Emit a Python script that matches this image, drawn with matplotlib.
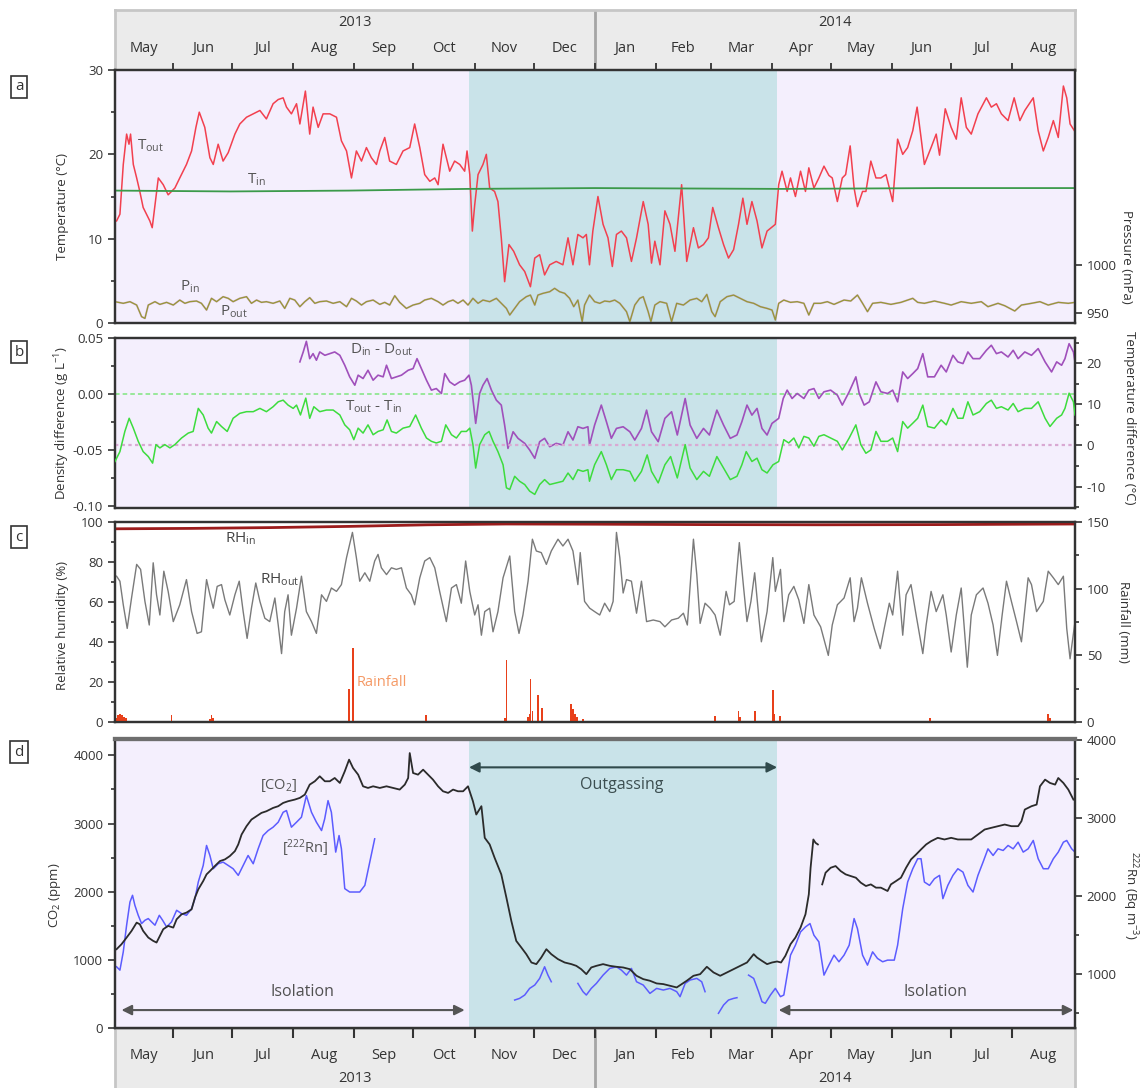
import numpy as np
import pandas as pd
import matplotlib
matplotlib.use("Agg")
import matplotlib.pyplot as plt
from matplotlib.ticker import MultipleLocator, FixedLocator, FormatStrFormatter

plt.rcParams['font.family'] = ['Open Sans', 'DejaVu Sans']
plt.rcParams['mathtext.fontset'] = 'custom'
plt.rcParams['mathtext.rm'] = 'Open Sans'
plt.rcParams['mathtext.it'] = 'Open Sans:italic'
plt.rcParams['axes.unicode_minus'] = False

# x values are days since 1 May 2013
START = pd.Timestamp('2013-05-01')
X0, X1 = 1.4, 489.0
OUTGAS = (181.2, 337.7)

# --- (a) temperature (degC) and pressure (mPa)
tout_day = [2.2, 3.9, 5.6, 7.3, 8.5, 9.3, 10.7, 12.4, 14.0, 15.7,
            17.4, 19.1, 20.3, 21.7, 23.4, 25.9, 28.4, 31.8, 34.3, 37.7,
            40.3, 42.5, 44.2, 47.0, 49.6, 51.3, 53.8, 56.3, 58.9, 62.3,
            64.8, 68.2, 71.6, 75.0, 78.3, 81.7, 84.3, 86.8, 88.5, 91.0,
            93.6, 95.3, 98.1, 100.3, 102.0, 104.6, 107.1, 110.5, 113.9, 116.4,
            119.0, 121.5, 124.0, 126.6, 129.1, 131.6, 134.2, 135.9, 138.4, 140.9,
            144.3, 147.7, 151.1, 153.6, 156.2, 158.7, 161.3, 163.8, 165.5, 168.0,
            169.7, 171.4, 173.9, 176.5, 179.0, 180.2, 181.6, 182.9, 184.1, 185.8,
            188.3, 190.0, 191.7, 194.2, 195.9, 197.6, 199.3, 201.5, 203.9, 206.9,
            209.5, 212.4, 214.6, 217.1, 219.6, 222.2, 225.5, 228.9, 231.5, 234.0,
            236.5, 239.1, 240.8, 242.4, 244.1, 246.7, 249.3,
            251.8, 254.0, 256.1, 258.6, 261.2, 263.7, 266.3, 269.7, 272.2, 273.9,
            275.6, 278.2, 280.7, 283.3, 285.8, 289.2, 291.8, 295.2, 297.7, 300.3,
            302.8, 305.0, 307.9, 310.5, 313.0, 315.6, 318.1, 320.3, 322.4, 324.9,
            327.5, 330.0, 332.6, 336.8, 338.5, 340.2, 342.8, 344.5, 347.0, 349.6,
            352.1, 353.8, 356.4, 358.9, 361.5, 364.0, 365.7, 368.3, 370.8, 372.5,
            374.8, 376.8, 378.5, 381.1, 382.8, 385.3, 387.9, 390.4, 393.0, 394.7,
            396.4, 398.9, 401.5, 404.0, 406.6, 408.8, 410.8, 412.5, 415.9, 418.5,
            420.2, 423.1, 426.1, 428.7, 431.2, 433.8, 436.3, 439.7, 444.0, 446.5,
            449.1, 451.6, 455.0, 458.1, 461.0, 463.5, 467.8, 470.3, 472.9, 475.4,
            478.0, 480.5, 483.1, 484.8, 486.5, 488.7]
tout = [12.1, 12.9, 18.8, 22.4, 21.2, 22.4, 18.8, 17.2, 15.6, 13.7,
        12.9, 12.1, 11.3, 14.0, 17.2, 16.4, 15.2, 16.0, 17.2, 18.8,
        20.4, 23.2, 25.0, 23.2, 19.6, 18.8, 21.2, 19.2, 20.2, 22.4,
        23.6, 24.4, 24.8, 25.2, 24.2, 26.0, 26.5, 26.7, 25.6, 24.8,
        26.0, 23.6, 27.5, 22.4, 25.6, 23.2, 24.8, 24.8, 24.4, 21.6,
        20.4, 17.2, 20.4, 19.2, 20.8, 19.6, 18.8, 20.4, 22.0, 19.2,
        18.8, 20.4, 20.8, 23.6, 20.8, 17.6, 16.8, 17.2, 16.4, 21.2,
        19.6, 18.0, 19.2, 18.8, 18.0, 20.4, 17.6, 10.9, 14.0, 17.6,
        18.8, 20.0, 16.0, 15.6, 14.4, 10.1, 4.9, 9.3, 8.5, 6.9,
        6.1, 4.3, 7.7, 8.1, 5.7, 6.9, 7.3, 6.9, 10.1, 6.9,
        10.5, 10.1, 10.5, 6.9, 10.9, 15.0, 11.7,
        10.1, 6.7, 10.5, 10.9, 10.1, 7.3, 10.1, 14.4, 11.7, 7.1,
        9.7, 6.9, 13.3, 11.7, 8.5, 16.4, 7.3, 11.3, 8.9, 9.3,
        10.1, 13.7, 11.3, 9.3, 7.7, 8.7, 11.7, 14.8, 11.7, 14.4,
        12.1, 8.9, 10.9, 11.7, 16.4, 18.0, 15.6, 17.2, 15.0, 18.0,
        15.6, 18.4, 16.0, 17.2, 18.6, 17.5, 17.2, 14.4, 17.2, 17.6,
        21.0, 16.0, 13.8, 15.6, 15.6, 19.2, 17.2, 17.2, 17.6, 16.0,
        14.4, 21.8, 20.0, 20.8, 22.8, 25.6, 22.0, 18.8, 20.8, 22.4,
        19.9, 25.4, 23.2, 21.8, 26.7, 23.2, 22.4, 24.8, 26.7, 25.6,
        26.0, 24.8, 24.0, 26.7, 24.0, 25.2, 26.7, 22.8, 20.4, 22.0,
        24.0, 22.0, 28.1, 26.7, 23.6, 22.8]

tin_day = [1.4, 60, 120, 180, 245, 340, 420, 489]
tin = [15.7, 15.6, 15.7, 15.9, 16.0, 15.9, 16.0, 16.0]

p_day = [1.4, 5.6, 9.0, 12.4, 14.9, 16.6, 18.3, 21.7, 24.2, 27.6,
         31.0, 34.3, 36.9, 39.4, 42.8, 45.3, 47.9, 50.4, 53.0, 56.3,
         58.9, 61.4, 64.8, 68.2, 70.7, 73.3, 75.8, 78.3, 81.7, 85.1,
         87.6, 90.2, 92.7, 95.3, 97.8, 100.3, 102.9, 105.4, 108.8, 112.2,
         115.6, 119.0, 121.5, 124.0, 126.6, 129.1, 132.5, 135.9, 138.4, 140.9,
         143.5, 146.0, 149.4, 152.8, 156.2, 158.7, 162.1, 165.5, 168.0, 170.6,
         173.1, 175.6, 178.2, 180.7, 183.2, 185.8, 188.3, 191.7, 195.1, 197.6,
         200.2, 201.9, 204.4, 206.9, 210.3, 212.4, 214.6, 216.2, 218.8, 222.2,
         224.7, 227.2, 229.8, 232.3, 234.4, 236.5, 238.7, 239.9, 242.4, 245.0,
         247.6, 250.1, 252.7, 255.2, 257.8, 261.2, 262.9, 265.4, 267.9, 269.7,
         272.2, 273.6, 275.6, 278.2, 281.6, 284.1, 286.7, 290.1, 293.5, 296.9,
         299.4, 302.0, 304.5, 306.2, 308.8, 312.2, 315.6, 319.0, 322.4, 325.8,
         329.2, 332.6, 335.1, 336.8, 338.5, 341.1, 344.5, 347.9, 351.3, 353.8,
         356.4, 359.8, 363.2, 366.6, 371.7, 375.1, 378.5, 381.1, 383.6, 386.2,
         390.4, 395.5, 400.6, 406.6, 409.1, 412.5, 417.6, 422.7, 426.1, 431.2,
         436.3, 441.4, 444.8, 449.9, 453.3, 458.4, 461.8, 466.9, 471.2, 475.4,
         480.5, 485.6, 489.0]
p_out = [961.8, 960.1, 961.8, 958.3, 946.2, 944.4, 958.3, 961.8, 959.0, 961.1,
         958.3, 963.5, 960.1, 961.8, 962.5, 960.1, 953.1, 965.3, 961.8, 967.0,
         965.3, 961.8, 965.3, 967.0, 960.1, 963.5, 961.1, 961.8, 960.1, 962.5,
         954.8, 965.3, 963.5, 956.6, 961.8, 966.0, 960.1, 961.8, 962.5, 960.1,
         961.8, 956.6, 965.3, 962.5, 958.3, 961.8, 963.5, 959.0, 961.1, 958.3,
         968.0, 961.1, 954.8, 958.3, 960.1, 963.5, 965.3, 961.8, 958.3, 961.8,
         963.5, 960.1, 963.5, 958.3, 965.3, 960.1, 963.5, 961.8, 965.3, 960.1,
         954.8, 947.9, 954.8, 961.8, 967.0, 968.7, 958.3, 968.7, 970.5, 972.2,
         975.7, 972.2, 970.5, 965.3, 956.6, 963.5, 941.0, 958.3, 968.7, 961.8,
         960.1, 962.5, 961.8, 963.5, 960.1, 951.4, 941.0, 958.3, 965.3, 967.0,
         951.4, 941.0, 958.3, 961.8, 960.1, 941.0, 960.1, 958.3, 963.5, 965.3,
         961.8, 969.4, 951.4, 946.2, 961.8, 967.0, 968.7, 965.3, 961.8, 960.1,
         956.6, 954.8, 953.1, 942.7, 960.1, 963.5, 961.1, 961.8, 960.1, 947.9,
         960.1, 960.1, 961.8, 959.0, 963.5, 962.5, 968.7, 960.1, 951.4, 960.1,
         961.1, 959.0, 961.1, 965.3, 961.1, 960.1, 962.5, 960.1, 958.3, 961.8,
         960.1, 961.8, 956.6, 960.1, 957.6, 952.1, 958.3, 960.1, 961.8, 958.3,
         961.1, 960.1, 961.1]
# inside and outside pressure agree within the line width
p_in = p_out

# --- (b) density difference (g/L) and temperature difference (degC)
dd_day = [95.3, 97.0, 98.6, 100.3, 102.0, 103.7, 105.4, 108.0, 110.5, 113.0,
          115.6, 118.1, 120.6, 123.2, 124.9, 127.4, 129.9, 132.5, 135.0, 137.6,
          139.3, 141.8, 144.3, 146.9, 150.3, 152.8, 154.8, 157.0, 159.6, 162.1,
          164.6, 167.2, 168.9, 171.4, 173.9, 176.5, 179.0, 181.2, 182.4, 184.6,
          186.6, 188.3, 190.4, 192.6, 195.1, 197.6, 199.3, 201.0, 203.6, 206.1,
          209.5, 212.0, 214.6, 217.1, 219.6, 222.2, 225.5, 228.9, 231.5, 234.0,
          236.5, 239.1, 241.6,
          242.4, 245.0, 248.4, 251.0, 253.5, 256.1, 259.5, 262.9, 265.4, 268.8,
          271.4, 273.9, 277.3, 280.7, 284.1, 287.0, 291.0, 293.5, 296.9, 300.3,
          303.3, 307.1, 310.5, 313.9, 317.3, 319.8, 322.4, 324.9, 327.5, 330.0,
          332.6, 335.1, 338.5, 340.8, 342.8, 345.3, 347.9, 351.3, 353.8, 356.4,
          358.9, 361.5, 364.9, 368.3, 370.8, 374.3, 377.7, 379.4, 381.9, 384.5,
          387.9, 390.4, 393.8, 396.4, 398.9, 401.5, 404.0, 406.6, 409.1, 411.7,
          414.2, 417.6, 421.0, 423.6, 427.0, 429.5, 432.1, 434.6, 437.2, 440.6,
          444.0, 446.5, 449.1, 451.6, 455.0, 457.6, 460.1, 463.5, 466.9, 470.3,
          473.8, 477.1, 479.7, 482.2, 483.9, 486.0, 488.2, 489.0]
dd = [0.0289, 0.0378, 0.0473, 0.0318, 0.0363, 0.0304, 0.0378, 0.0348, 0.0363, 0.0378,
      0.0348, 0.0259, 0.0155, 0.0080, 0.0170, 0.0140, 0.0214, 0.0125, 0.0170, 0.0155,
      0.0259, 0.0140, 0.0155, 0.0170, 0.0214, 0.0229, 0.0318, 0.0229, 0.0125, 0.0036,
      0.0050, 0.0006, 0.0184, 0.0110, 0.0080, 0.0110, 0.0125, 0.0170, 0.0080, -0.0262,
      0.0006, 0.0080, 0.0140, 0.0036, -0.0054, -0.0098, -0.0277, -0.0486, -0.0337, -0.0396,
      -0.0441, -0.0500, -0.0575, -0.0426, -0.0396, -0.0471, -0.0441, -0.0456, -0.0337, -0.0411,
      -0.0292, -0.0307, -0.0292,
      -0.0456, -0.0277, -0.0098, -0.0247, -0.0396, -0.0307, -0.0292, -0.0337, -0.0411, -0.0307,
      -0.0143, -0.0337, -0.0426, -0.0217, -0.0158, -0.0366, -0.0039, -0.0277, -0.0396, -0.0307,
      -0.0366, -0.0143, -0.0277, -0.0396, -0.0366, -0.0247, -0.0098, -0.0188, -0.0128, -0.0307,
      -0.0366, -0.0262, -0.0217, -0.0039, 0.0036, -0.0039, 0.0006, -0.0039, 0.0036, 0.0050,
      -0.0039, 0.0021, 0.0036, -0.0009, -0.0098, 0.0021, 0.0155, 0.0006, -0.0098, -0.0069,
      0.0110, 0.0021, 0.0006, 0.0036, -0.0069, 0.0199, 0.0140, 0.0184, 0.0229, 0.0363,
      0.0155, 0.0155, 0.0259, 0.0199, 0.0348, 0.0289, 0.0274, 0.0378, 0.0318, 0.0318,
      0.0393, 0.0438, 0.0363, 0.0378, 0.0333, 0.0393, 0.0318, 0.0378, 0.0348, 0.0408,
      0.0289, 0.0199, 0.0289, 0.0259, 0.0318, 0.0452, 0.0378, 0.0289]

dt_day = [1.4, 3.9, 6.4, 8.6, 10.7, 13.2, 15.7, 18.3, 20.5, 22.2,
          24.2, 26.7, 29.3, 31.8, 35.2, 38.6, 41.1, 43.7, 46.2, 48.7,
          50.4, 53.0, 55.5, 58.4, 61.4, 64.8, 68.2, 71.6, 75.0, 78.3,
          81.7, 84.3, 86.8, 89.3, 91.9, 93.6, 95.6, 98.3, 100.3, 102.4,
          105.4, 108.8, 112.2, 115.6, 118.1, 120.6, 122.7, 124.9, 127.4, 129.9,
          132.5, 135.0, 137.6, 139.6, 141.8, 144.3, 147.7, 151.1, 154.1, 157.0,
          159.6, 162.1, 164.6, 167.2, 169.4, 172.3, 174.8, 177.3, 179.9, 181.6,
          183.2, 184.6, 186.6, 189.2, 191.4, 193.4, 195.9, 198.5, 200.2, 201.9,
          204.4, 206.9, 209.5, 212.0, 214.6, 217.1, 219.6, 222.2, 225.5, 228.9,
          231.5, 234.0, 236.5, 239.1, 241.6,
          242.4, 245.0, 248.4, 251.0, 253.5, 256.1, 259.5, 262.9, 265.4, 268.8,
          271.7, 273.9, 277.3, 280.7, 283.6, 287.0, 291.0, 293.5, 296.9, 300.3,
          303.3, 307.1, 310.5, 313.9, 317.3, 319.8, 322.0, 324.9, 327.5, 330.0,
          332.6, 335.6, 338.5, 341.1, 343.6, 346.2, 348.7, 351.3, 353.8, 356.4,
          358.9, 361.5, 364.9, 368.3, 370.8, 374.3, 377.7, 380.2, 382.8, 385.3,
          387.9, 390.4, 393.8, 396.4, 398.9, 401.5, 404.0, 406.6, 409.1, 411.7,
          414.2, 417.6, 421.0, 423.6, 427.0, 429.5, 432.1, 434.6, 437.2, 440.6,
          444.0, 446.5, 449.1, 451.6, 455.0, 457.6, 460.1, 463.5, 466.9, 470.3,
          473.8, 476.3, 479.7, 482.2, 483.9, 486.0, 488.2, 489.0]
dtemp = [-3.9, -1.5, 3.4, 6.6, 4.2, 1.0, -1.5, -2.7, -4.3, 0.2,
         -0.6, 0.2, -0.6, 0.2, 1.8, 3.0, 3.4, 9.0, 7.4, 4.2,
         3.0, 5.8, 4.6, 3.4, 6.6, 7.8, 8.2, 8.2, 9.0, 8.2,
         9.4, 10.6, 11.0, 9.8, 9.0, 9.8, 7.4, 11.5, 6.6, 9.4,
         8.2, 8.6, 8.6, 7.4, 5.0, 3.8, 1.4, 4.2, 3.0, 5.0,
         2.6, 3.4, 3.8, 6.2, 3.4, 3.0, 4.2, 4.6, 7.4, 4.2,
         1.8, 1.0, 0.6, 1.0, 5.0, 2.6, 1.8, 3.4, 3.4, 4.2,
         0.2, -5.5, 0.2, 2.6, 3.4, 1.0, -1.5, -4.7, -10.3, -10.7,
         -7.5, -8.7, -9.5, -11.1, -11.9, -9.5, -8.3, -9.5, -9.1, -8.7,
         -6.7, -8.3, -5.9, -6.3, -5.9,
         -8.7, -4.7, -1.5, -4.7, -8.3, -5.9, -5.9, -6.3, -8.7, -6.3,
         -2.3, -6.3, -9.1, -4.7, -2.7, -7.9, 0.2, -5.5, -8.3, -6.3,
         -7.5, -2.7, -5.5, -8.3, -7.5, -4.7, -1.5, -3.9, -3.1, -5.9,
         -6.7, -4.7, -3.9, 1.4, 0.6, 1.8, -0.6, 2.2, 1.8, -0.2,
         2.2, 2.6, 1.8, 1.0, -1.1, 1.8, 5.0, 0.2, -1.9, -1.1,
         3.4, 1.0, 1.0, 1.8, -1.5, 5.8, 4.2, 5.4, 6.6, 9.8,
         4.6, 4.2, 6.2, 5.0, 9.0, 6.6, 6.6, 10.6, 7.4, 8.2,
         10.2, 11.0, 9.0, 9.4, 8.6, 10.2, 8.2, 9.0, 9.0, 10.6,
         6.6, 4.6, 6.6, 7.4, 9.0, 12.7, 10.6, 7.4]

# --- (c) relative humidity (%) and rainfall (mm)
rhin_day = [1.4, 40, 80, 120, 160, 200, 245, 300, 360, 420, 489]
rhin = [96.6, 96.8, 97.2, 97.8, 98.6, 99.0, 98.9, 98.7, 98.6, 98.7, 99.0]

rh_day = [2.2, 3.9, 5.6, 7.6, 9.8, 12.4, 14.4, 16.6, 18.8, 20.8,
          22.5, 24.2, 26.2, 28.4, 31.0, 34.3, 37.7, 40.3, 43.1, 45.3,
          47.9, 49.6, 51.3, 53.3, 55.5, 57.2, 59.7, 62.3, 64.5, 66.5,
          68.5, 70.7, 72.9, 75.0, 77.5, 80.0, 82.6, 84.3, 86.0, 87.6,
          89.3, 91.0, 93.6, 96.1, 98.6, 101.2, 103.7, 106.3, 108.8, 111.3,
          113.9, 116.4, 119.0, 122.0, 124.0, 125.7, 128.3, 130.8, 133.3, 135.0,
          136.7, 139.3, 141.8, 144.3, 146.9, 149.4, 151.9, 153.6, 156.2, 158.7,
          161.3, 163.8, 166.3, 169.7, 172.3, 174.8, 177.3, 179.5, 181.6, 184.1,
          185.8, 187.5, 189.2, 191.7, 193.4, 195.9, 198.5, 201.9, 204.4, 206.6,
          208.6, 211.2, 213.4, 215.4, 217.9, 220.5, 223.0, 226.4, 228.9, 231.5,
          234.0, 236.5, 237.7, 239.9, 242.5, 245.0,
          247.6, 250.1, 252.7, 254.4, 256.1, 257.8, 259.5, 261.2, 263.7, 266.3,
          268.8, 271.4, 274.8, 278.2, 280.7, 284.1, 287.5, 290.1, 292.1, 295.2,
          296.9, 298.6, 301.1, 303.7, 306.2, 308.8, 311.8, 313.5, 315.9, 318.5,
          320.7, 322.4, 324.4, 326.3, 328.3, 329.7, 332.6, 335.5, 336.8, 339.4,
          341.1, 343.6, 346.2, 348.7, 351.3, 353.8, 356.4, 359.8, 363.7, 365.7,
          368.3, 371.7, 374.8, 376.8, 378.5, 380.5, 383.6, 387.0, 390.1, 392.1,
          394.7, 396.4, 398.9, 401.5, 403.2, 405.7, 408.3, 411.7, 413.4, 415.9,
          418.5, 421.9, 423.6, 426.1, 428.7, 431.2, 434.3, 436.3, 438.9, 442.3,
          444.8, 447.4, 449.6, 452.0, 454.2, 456.7, 459.3, 461.8, 465.2, 466.9,
          469.5, 472.9, 475.4, 478.0, 480.5, 483.1, 484.8, 486.5, 489.0]
rhout = [72.9, 70.4, 58.6, 46.8, 62.0, 78.8, 76.3, 60.3, 48.5, 79.6,
         63.6, 53.5, 75.4, 65.3, 50.2, 58.6, 71.2, 55.2, 44.3, 45.1,
         71.2, 63.6, 56.9, 67.8, 68.7, 61.1, 53.5, 63.6, 70.4, 55.2,
         41.8, 56.9, 69.5, 60.3, 51.9, 50.2, 62.0, 48.5, 34.2, 55.2,
         63.6, 43.4, 56.9, 72.9, 55.2, 50.2, 44.3, 63.6, 60.3, 67.0,
         65.3, 68.7, 82.2, 94.8, 82.2, 70.4, 74.6, 70.4, 80.5, 83.8,
         77.1, 73.7, 77.1, 76.3, 77.1, 67.0, 63.6, 58.6, 72.1, 80.5,
         82.2, 77.1, 65.3, 50.2, 67.0, 68.7, 59.4, 80.5, 65.3, 53.5,
         58.6, 43.4, 55.2, 56.9, 45.1, 55.2, 72.1, 83.0, 55.2, 44.3,
         53.5, 70.4, 91.4, 85.5, 84.7, 78.8, 85.5, 91.4, 88.0, 91.4,
         85.5, 68.7, 84.7, 60.3, 56.9, 55.2,
         53.5, 59.4, 55.2, 60.3, 94.8, 82.2, 64.5, 71.2, 70.4, 54.4,
         70.4, 50.2, 51.0, 50.2, 47.6, 51.0, 51.9, 54.4, 48.5, 91.4,
         73.7, 49.3, 59.4, 56.9, 53.5, 43.4, 65.3, 58.6, 60.3, 89.7,
         67.0, 50.2, 60.3, 74.6, 53.5, 40.1, 55.2, 82.2, 65.3, 76.3,
         50.2, 63.6, 67.8, 61.1, 49.3, 68.7, 53.5, 47.6, 33.3, 48.5,
         58.6, 62.0, 72.1, 50.2, 56.9, 72.1, 59.4, 46.8, 36.7, 46.8,
         59.4, 53.5, 75.4, 43.4, 63.6, 68.7, 53.5, 34.2, 48.5, 65.3,
         55.2, 63.6, 53.5, 35.0, 53.5, 67.0, 27.4, 53.5, 63.6, 67.0,
         59.4, 48.5, 33.3, 53.5, 70.4, 60.3, 50.2, 40.1, 72.1, 68.7,
         55.2, 60.3, 75.4, 72.1, 68.7, 72.9, 46.8, 31.6, 50.2]

rain_day = [2.0, 3.0, 4.0, 5.0, 6.0, 7.0, 30.1, 49.6, 50.4, 51.3,
            120.3, 122.3, 130.8, 159.2, 183.0, 199.5, 200.2, 211.0, 212.0, 212.4,
            213.5, 216.2, 218.3, 233.2, 234.0, 235.0, 236.0, 239.1, 258.6, 264.6,
            266.3, 306.2, 318.1, 318.8, 326.3, 330.9, 335.5, 336.0, 339.0, 385.3,
            394.7, 415.4, 475.4, 476.3]
rain_mm = [3, 5, 6, 5.5, 4, 3, 5.5, 2.5, 5, 3,
           24.4, 55.4, 1, 5.2, 1, 3, 46.8, 4, 6, 32.3,
           8, 20.6, 10.7, 13.2, 10, 6, 4, 2, 1, 1,
           1, 4.5, 8.2, 4, 8.2, 1, 23.9, 6, 4.5, 0.7,
           0.7, 3.2, 5.9, 3]

# --- (d) CO2 (ppm) and 222Rn (Bq/m3); gaps are missing records
co2_day_1 = [2.2, 4.7, 7.3, 9.8, 12.4, 14.0, 15.7, 18.3, 20.8, 22.5,
             24.2, 25.9, 28.4, 31.0, 32.7, 35.2, 37.7, 40.3, 42.0, 43.7,
             46.2, 47.9, 49.6, 52.1, 54.7, 57.2, 59.7, 62.3, 64.0, 65.7,
             68.2, 70.7, 73.3, 75.8, 78.3, 81.7, 84.3, 86.8, 89.3, 92.7,
             95.3, 97.8, 100.3, 102.9, 105.4, 108.0, 110.5, 113.0, 115.6, 118.1,
             120.3, 122.3, 124.9, 127.4, 129.9, 132.5, 135.9, 139.3, 142.6, 146.0,
             148.6, 150.3, 151.1, 152.8, 155.3, 157.9, 160.4, 162.9, 165.5, 168.0,
             170.6, 173.1, 175.6, 178.2, 180.7, 183.2, 184.9, 187.5, 189.2, 191.7,
             194.2, 197.6, 200.2, 202.7, 205.2, 207.8, 210.3, 212.9, 215.4, 217.9,
             220.5, 223.0, 226.4, 229.8, 233.2, 235.7, 238.2, 240.8, 243.3, 245.9,
             249.3, 252.7, 256.1, 259.5, 262.9, 266.3, 269.7, 273.1, 276.5, 279.9,
             283.3, 286.7, 289.2, 291.8, 295.2, 298.6, 302.0, 305.4, 308.8, 312.2,
             315.6, 319.0, 322.4, 325.8, 327.5, 330.0, 332.6, 335.1, 337.7, 339.7,
             341.9, 344.5, 347.0, 349.6, 352.1, 353.8, 354.7, 356.1, 357.2, 358.4]
co2_1 = [1156, 1229, 1327, 1424, 1546, 1522, 1424, 1327, 1278, 1254,
         1351, 1449, 1498, 1473, 1595, 1668, 1693, 1741, 1912, 2034,
         2156, 2254, 2302, 2376, 2449, 2473, 2522, 2595, 2693, 2839,
         2961, 3058, 3107, 3156, 3180, 3229, 3254, 3302, 3327, 3351,
         3376, 3424, 3571, 3620, 3693, 3620, 3620, 3668, 3595, 3766,
         3937, 3815, 3717, 3546, 3522, 3546, 3522, 3546, 3522, 3498,
         3571, 3668, 4034, 3741, 3717, 3790, 3717, 3644, 3546, 3473,
         3449, 3498, 3473, 3473, 3546, 3327, 3132, 3254, 2790, 2693,
         2498, 2254, 1912, 1571, 1278, 1180, 1083, 961, 937, 1034,
         1156, 1083, 1010, 961, 937, 912, 863, 790, 888, 912,
         937, 912, 898, 888, 863, 766, 717, 693, 654, 644,
         620, 595, 644, 693, 766, 790, 898, 815, 766, 815,
         863, 912, 961, 1083, 1034, 985, 937, 961, 976, 961,
         1059, 1229, 1327, 1473, 1668, 1961, 2351, 2766, 2717, 2693]
co2_day_2 = [360.6, 362.3, 364.9, 367.4, 370.0, 372.5, 375.1, 377.7, 380.2, 382.8,
             385.3, 387.9, 390.4, 393.8, 395.5, 398.1, 400.6, 403.2, 405.7, 408.3,
             410.8, 413.4, 415.9, 419.3, 422.7, 426.1, 429.5, 433.0, 436.3, 439.7,
             443.1, 446.5, 449.9, 453.3, 456.7, 460.1, 461.8, 463.5, 466.9, 469.5,
             471.2, 473.8, 476.3, 478.9, 480.5, 483.1, 485.6, 488.2]
co2_2 = [2107, 2278, 2351, 2376, 2302, 2254, 2229, 2205, 2132, 2083,
         2107, 2059, 2059, 2010, 2107, 2156, 2205, 2351, 2473, 2546,
         2620, 2693, 2741, 2790, 2766, 2790, 2766, 2766, 2766, 2839,
         2912, 2937, 2961, 2985, 2961, 2961, 3034, 3205, 3254, 3278,
         3546, 3644, 3595, 3571, 3668, 3595, 3498, 3351]

rn_day_1 = [2.2, 3.9, 5.6, 7.3, 9.0, 10.3, 11.5, 13.2, 14.9, 16.6,
            18.3, 20.0, 21.7, 23.9, 25.6, 27.6, 30.1, 32.7, 35.2, 37.7,
            40.3, 42.0, 43.7, 46.2, 47.9, 49.6, 51.3, 53.8, 56.3, 58.9,
            61.4, 64.0, 66.5, 69.0, 71.6, 74.1, 76.6, 79.2, 81.7, 84.3,
            86.8, 88.5, 91.0, 93.6, 96.1, 98.6, 101.2, 103.7, 106.3, 107.9,
            109.6, 111.3, 113.5, 115.2, 116.4, 118.1, 120.6, 123.2, 125.7, 128.3,
            130.8, 133.3]
rn_1 = [1096, 1053, 1287, 1628, 1925, 2011, 1883, 1755, 1649, 1691,
        1713, 1670, 1628, 1755, 1691, 1606, 1670, 1819, 1777, 1755,
        1840, 1968, 2181, 2393, 2649, 2521, 2351, 2415, 2436, 2393,
        2351, 2266, 2393, 2521, 2415, 2606, 2776, 2840, 2883, 2947,
        3074, 3096, 2883, 2947, 3011, 3287, 3074, 2947, 2840, 2989,
        3223, 3074, 2564, 2776, 2606, 2096, 2053, 2053, 2053, 2138,
        2436, 2734]
rn_day_2 = [204.4, 206.9, 209.5, 212.0, 214.6, 217.1, 219.6, 221.3, 223.0]
rn_2 = [670, 691, 734, 819, 862, 947, 1096, 989, 904]
rn_day_3 = [236.5, 239.1, 240.8, 243.3, 245.9, 249.3, 252.7, 256.1, 258.6, 261.2,
            263.7, 266.3, 269.7, 273.1, 276.5, 279.9, 283.3, 286.7, 288.4, 291.0,
            293.5, 296.9, 299.4, 301.1]
rn_3 = [883, 777, 734, 819, 883, 989, 1075, 1096, 1053, 989,
        1075, 904, 862, 755, 819, 798, 819, 777, 713, 883,
        926, 947, 904, 777]
rn_day_4 = [307.9, 310.5, 313.0, 315.6, 317.3]
rn_4 = [500, 606, 670, 691, 700]
rn_day_5 = [323.2, 325.8, 328.3, 330.0, 331.7, 334.3, 336.8, 339.4, 341.1, 342.8,
            344.5, 347.0, 349.6, 352.1, 354.4, 356.4, 358.9, 361.5, 364.0, 366.6,
            369.1, 371.7, 374.3, 376.8, 378.5, 381.1, 383.6, 386.2, 388.7, 391.3,
            393.8, 397.2, 398.9, 401.5, 404.0, 406.6, 409.1, 410.8, 412.5, 415.1,
            417.6, 420.2, 421.9, 424.4, 427.0, 429.5, 432.1, 434.6, 437.2, 439.7,
            442.3, 444.8, 447.4, 449.9, 452.5, 455.0, 457.6, 460.1, 462.7, 465.2,
            467.8, 470.3, 472.9, 475.4, 478.0, 480.5, 483.1, 484.8, 487.3, 489.0]
rn_5 = [989, 947, 777, 649, 628, 734, 819, 713, 734, 989,
        1245, 1372, 1542, 1606, 1649, 1500, 1415, 989, 1117, 1245,
        1160, 1245, 1372, 1713, 1585, 1245, 1117, 1287, 1202, 1160,
        1181, 1181, 1372, 1840, 2181, 2351, 2479, 2479, 2181, 2138,
        2223, 2266, 1968, 2138, 2266, 2351, 2308, 2138, 2053, 2266,
        2436, 2606, 2521, 2606, 2585, 2649, 2606, 2691, 2564, 2606,
        2713, 2479, 2351, 2351, 2479, 2564, 2691, 2713, 2606, 2564]

LAV = '#f4effd'
OUT_BLUE = '#c9e3e9'
INK = '#333333'
LABEL = '#555555'

W_PX, H_PX = 1142, 1088


def rect(x0, y0, x1, y1):
    return [x0 / W_PX, 1 - y1 / H_PX, (x1 - x0) / W_PX, (y1 - y0) / H_PX]


fig = plt.figure(figsize=(W_PX / 100, H_PX / 100), dpi=100)

# month ticks and labels
month_starts = pd.date_range('2013-06-01', '2014-09-01', freq='MS')
tick_days = [(m - START).days for m in month_starts]
edges = [X0] + tick_days[:-1] + [X1]
month_mid = [(edges[i] + edges[i + 1]) / 2 for i in range(len(edges) - 1)]
month_names = [m.strftime('%b') for m in pd.date_range('2013-05-01', '2014-08-01', freq='MS')]
jan_day = (pd.Timestamp('2014-01-01') - START).days


def header(ax, month_y, year_y):
    ax.set_xlim(X0, X1)
    ax.set_ylim(0, 1)
    ax.set_facecolor('#ebebeb')
    ax.set_xticks([])
    ax.set_yticks([])
    for s in ax.spines.values():
        s.set_color('#c6c6c6')
        s.set_linewidth(2)
    ax.axvline(jan_day, color='#a5a5a5', lw=2)
    for x, name in zip(month_mid, month_names):
        ax.text(x, month_y, name, ha='center', va='center', fontsize=10.5, color=INK)
    ax.text((X0 + jan_day) / 2, year_y, '2013', ha='center', va='center', fontsize=10.5, color=INK)
    ax.text((jan_day + X1) / 2, year_y, '2014', ha='center', va='center', fontsize=10.5, color=INK)


hdr_top = fig.add_axes(rect(115, 10, 1075, 70))
header(hdr_top, 0.36, 0.8)
hdr_bot = fig.add_axes(rect(115, 1028, 1075, 1090))
header(hdr_bot, 0.56, 0.18)

ax_a = fig.add_axes(rect(115, 70, 1075, 323))
ax_b = fig.add_axes(rect(115, 338, 1075, 508))
ax_c = fig.add_axes(rect(115, 522, 1075, 722))
ax_d = fig.add_axes(rect(115, 739, 1075, 1028))
ax_a2 = ax_a.twinx()
ax_b2 = ax_b.twinx()
ax_c2 = ax_c.twinx()
ax_d2 = ax_d.twinx()

for ax in (ax_a, ax_b, ax_c, ax_d, ax_a2, ax_b2, ax_c2, ax_d2):
    ax.set_xlim(X0, X1)
    for s in ax.spines.values():
        s.set_color(INK)
        s.set_linewidth(1.6)
    ax.tick_params(axis='y', which='both', direction='out', colors=INK, labelsize=9.5, width=1.2)
    ax.tick_params(axis='y', which='major', length=5)
    ax.tick_params(axis='y', which='minor', length=3)
    ax.tick_params(axis='x', which='both', bottom=False, top=False,
                   labelbottom=False, labeltop=False)

# panel d: CO2 axes sits above the radon twin, so the twin carries the background
ax_d.set_zorder(ax_d2.get_zorder() + 1)
ax_d.patch.set_visible(False)
ax_d2.patch.set_visible(True)

for ax in (ax_a, ax_b, ax_d2):
    ax.set_facecolor(LAV)
    ax.axvspan(OUTGAS[0], OUTGAS[1], color=OUT_BLUE, lw=0, zorder=0)
ax_c.set_facecolor('white')

# month ticks along the header edges
ax_a.set_xticks(tick_days[:-1])
ax_a.tick_params(axis='x', which='major', top=True, direction='out', length=5, width=1.3, color=INK)
ax_d.set_xticks(tick_days[:-1])
ax_d.tick_params(axis='x', which='major', bottom=True, direction='out', length=7, width=1.5, color=INK)

# (a)
ax_a.plot(tout_day, tout, color='#f2404f', lw=1.1, zorder=3)
ax_a.plot(tin_day, tin, color='#3b9a4a', lw=1.3, zorder=3)
ax_a.set_ylim(0, 30)
ax_a.yaxis.set_major_locator(MultipleLocator(10))
ax_a.yaxis.set_minor_locator(MultipleLocator(5))
ax_a2.plot(p_day, p_in, color='#d070d0', lw=1.5, alpha=0.35)
ax_a2.plot(p_day, p_out, color='#97973a', lw=1.0)
ax_a2.set_ylim(939.6, 1203.1)
ax_a2.yaxis.set_major_locator(FixedLocator([950, 1000]))
ax_a.text(12.4, 21.0, r'T$_{\rm out}$', color=LABEL, fontsize=11, va='center')
ax_a.text(68.2, 17.0, r'T$_{\rm in}$', color=LABEL, fontsize=11, va='center')
ax_a.text(34.3, 4.3, r'P$_{\rm in}$', color=LABEL, fontsize=11, va='center')
ax_a.text(54.7, 1.35, r'P$_{\rm out}$', color=LABEL, fontsize=11, va='center')
ax_a.text(-0.055, 0.46, 'Temperature (°C)', transform=ax_a.transAxes, rotation=90,
          ha='center', va='center', fontsize=9.5, color=INK)
ax_a.text(1.054, 0.26, 'Pressure (mPa)', transform=ax_a.transAxes, rotation=270,
          ha='center', va='center', fontsize=9.5, color=INK)

# (b)
ax_b.axhline(0, color='#7fe57f', lw=1.1, ls=(0, (3, 2)), zorder=1)
ax_b.plot(dd_day, dd, color='#a050bb', lw=1.2, zorder=3)
ax_b.set_ylim(-0.102, 0.0503)
ax_b.yaxis.set_major_locator(FixedLocator([-0.10, -0.05, 0.0, 0.05]))
ax_b.yaxis.set_minor_locator(FixedLocator([-0.075, -0.025, 0.025]))
ax_b.yaxis.set_major_formatter(FormatStrFormatter('%.2f'))
ax_b2.axhline(0, color='#d9a9d3', lw=1.6, ls=(0, (1.5, 1.5)), zorder=1)
ax_b2.plot(dt_day, dtemp, color='#3ddc3d', lw=1.1, zorder=3)
ax_b2.set_ylim(-15.2, 26.1)
ax_b2.yaxis.set_major_locator(FixedLocator([-10, 0, 10, 20]))
ax_b2.yaxis.set_minor_locator(FixedLocator([-15, -5, 5, 15, 25]))
ax_b.text(120.6, 0.0393, r'D$_{\rm in}$ - D$_{\rm out}$', color=LABEL, fontsize=11, va='center')
ax_b.text(118.1, -0.0113, r'T$_{\rm out}$ - T$_{\rm in}$', color=LABEL, fontsize=11, va='center')
ax_b.text(-0.055, 0.5, r'Density difference (g L$^{-1}$)', transform=ax_b.transAxes,
          rotation=90, ha='center', va='center', fontsize=9.5, color=INK)
ax_b.text(1.057, 0.53, 'Temperature difference (°C)', transform=ax_b.transAxes,
          rotation=270, ha='center', va='center', fontsize=9.5, color=INK)

# (c)
ax_c.plot(rhin_day, rhin, color='#9c1c1c', lw=2.0, zorder=3)
ax_c.plot(rh_day, rhout, color='#7a7a7a', lw=1.0, zorder=3)
ax_c.set_ylim(0, 100)
ax_c.yaxis.set_major_locator(MultipleLocator(20))
ax_c.yaxis.set_minor_locator(MultipleLocator(10))
ax_c2.bar(rain_day, rain_mm, width=0.9, color='#e8401a', lw=0)
ax_c2.set_ylim(0, 150)
ax_c2.yaxis.set_major_locator(MultipleLocator(50))
ax_c2.yaxis.set_minor_locator(MultipleLocator(25))
ax_c.text(57.2, 91.4, r'RH$_{\rm in}$', color='#444444', fontsize=11, va='center')
ax_c.text(75.0, 71.2, r'RH$_{\rm out}$', color='#444444', fontsize=11, va='center')
ax_c.text(124.0, 19.9, 'Rainfall', color='#f59a66', fontsize=10.5, va='center')
ax_c.text(-0.055, 0.485, 'Relative humidity (%)', transform=ax_c.transAxes, rotation=90,
          ha='center', va='center', fontsize=9.5, color=INK)
ax_c.text(1.051, 0.5, 'Rainfall (mm)', transform=ax_c.transAxes, rotation=270,
          ha='center', va='center', fontsize=9.5, color=INK)

# (d)
for d, v in ((rn_day_1, rn_1), (rn_day_2, rn_2), (rn_day_3, rn_3),
             (rn_day_4, rn_4), (rn_day_5, rn_5)):
    ax_d2.plot(d, v, color='#5c5cff', lw=1.1, zorder=2)
ax_d2.set_ylim(312, 4012)
ax_d2.yaxis.set_major_locator(FixedLocator([1000, 2000, 3000, 4000]))
ax_d2.yaxis.set_minor_locator(FixedLocator([500, 1500, 2500, 3500]))
ax_d.plot(co2_day_1, co2_1, color='#2b2b2b', lw=1.3, zorder=3)
ax_d.plot(co2_day_2, co2_2, color='#2b2b2b', lw=1.3, zorder=3)
ax_d.set_ylim(0, 4240)
ax_d.yaxis.set_major_locator(MultipleLocator(1000))
ax_d.yaxis.set_minor_locator(MultipleLocator(500))
for ax in (ax_d, ax_d2):
    ax.spines['top'].set_color('#6e6e6e')
    ax.spines['top'].set_linewidth(3)

ax_d.text(75.0, 3561, r'[CO$_2$]', color=LABEL, fontsize=10.5, va='center')
ax_d.text(86.0, 2644, r'[$^{222}$Rn]', color=LABEL, fontsize=10.5, va='center')

arrow_iso = dict(arrowstyle='<|-|>', color='#555555', lw=1.5, mutation_scale=15,
                 shrinkA=0, shrinkB=0)
arrow_out = dict(arrowstyle='<|-|>', color='#304a4c', lw=1.5, mutation_scale=15,
                 shrinkA=0, shrinkB=0)
ax_d.annotate('', xy=(179.0, 263), xytext=(4.7, 263), arrowprops=arrow_iso)
ax_d.annotate('', xy=(488.2, 263), xytext=(338.5, 263), arrowprops=arrow_iso)
ax_d.annotate('', xy=(337.7, 3824), xytext=(181.2, 3824), arrowprops=arrow_out)
ax_d.text(96.6, 522, 'Isolation', color='#505050', fontsize=11.5, ha='center', va='center')
ax_d.text(418.0, 522, 'Isolation', color='#505050', fontsize=11.5, ha='center', va='center')
ax_d.text(259.0, 3571, 'Outgassing', color='#3c4e50', fontsize=11.5, ha='center', va='center')
ax_d.text(-0.0625, 0.46, r'CO$_2$ (ppm)', transform=ax_d.transAxes, rotation=90,
          ha='center', va='center', fontsize=9.5, color=INK)
ax_d.text(1.057, 0.46, r'$^{222}$Rn (Bq m$^{-3}$)', transform=ax_d.transAxes, rotation=270,
          ha='center', va='center', fontsize=9.5, color=INK)

# panel letters
for letter, ypx in (('a', 87), ('b', 352), ('c', 537), ('d', 752)):
    fig.text(19 / W_PX, 1 - ypx / H_PX, letter, ha='center', va='center', fontsize=11,
             color=INK, bbox=dict(boxstyle='square,pad=0.25', fc='white', ec=INK, lw=1.2))

fig.savefig('out.png', dpi=100)
